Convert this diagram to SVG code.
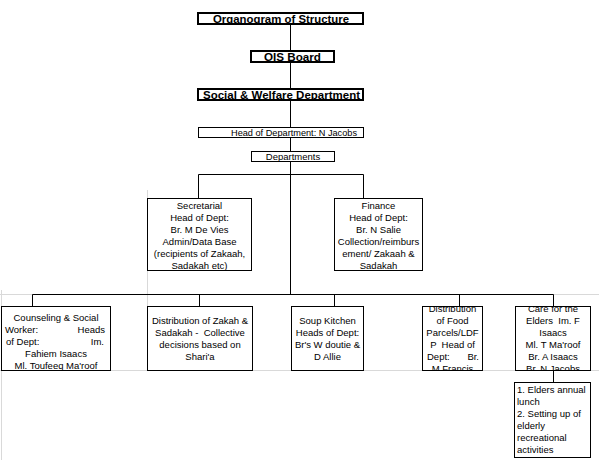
<svg xmlns="http://www.w3.org/2000/svg" width="599" height="460" viewBox="0 0 599 460">
<style>
.grid{stroke:#d9d9d9;stroke-width:1;fill:none}
.con{stroke:#000;stroke-width:1;fill:none}
.box{fill:#fff;stroke:#000;stroke-width:1}
.tbox{fill:#fff;stroke:#000;stroke-width:2}
.t{font-family:"Liberation Sans",Arial,sans-serif;font-size:9.5px;fill:#000;white-space:pre}
.c{text-anchor:middle}
.e{text-anchor:end}
.b{font-family:"Liberation Sans",Arial,sans-serif;font-size:11px;font-weight:bold;fill:#000;text-anchor:middle}
</style>
<defs>
<clipPath id="clip1"><rect x="1" y="306" width="109" height="64"/></clipPath>
<clipPath id="clip4"><rect x="422" y="306" width="60" height="64"/></clipPath>
<clipPath id="clip5"><rect x="515" y="306" width="75" height="64"/></clipPath>
</defs>
<g id="grid">
<line class="grid" x1="0" y1="370.5" x2="599" y2="370.5"/>
<line class="grid" x1="0" y1="294.5" x2="599" y2="294.5"/>
<line class="grid" x1="1.5" y1="290" x2="1.5" y2="460"/>
<line class="grid" x1="147.5" y1="190" x2="147.5" y2="306"/>
</g>
<g id="connectors">
<line class="con" x1="290.5" y1="24" x2="290.5" y2="294.5"/>
<polyline class="con" points="198.5,198 198.5,174.5 363.5,174.5 363.5,198"/>
<line class="con" x1="32.5" y1="294.5" x2="553.5" y2="294.5"/>
<line class="con" x1="32.5" y1="294.5" x2="32.5" y2="306"/>
<line class="con" x1="199.5" y1="294.5" x2="199.5" y2="306"/>
<line class="con" x1="334.5" y1="294.5" x2="334.5" y2="306"/>
<line class="con" x1="459.5" y1="294.5" x2="459.5" y2="306"/>
<line class="con" x1="553.5" y1="294.5" x2="553.5" y2="306"/>
<line class="con" x1="553.5" y1="370" x2="553.5" y2="382"/>
</g>
<g id="title">
<rect class="tbox" x="198" y="13" width="165" height="11"/>
<text class="b" x="281" y="22.5" textLength="136" lengthAdjust="spacingAndGlyphs">Organogram of Structure</text>
</g>
<g id="ois-board">
<rect class="tbox" x="251" y="51" width="83" height="11"/>
<text class="b" x="292.5" y="60.5" textLength="57" lengthAdjust="spacingAndGlyphs">OIS Board</text>
</g>
<g id="social-welfare">
<rect class="tbox" x="198" y="89" width="165" height="11"/>
<text class="b" x="281.5" y="98.5" textLength="157" lengthAdjust="spacingAndGlyphs">Social &amp; Welfare Department</text>
</g>
<g id="head-of-department">
<rect class="box" x="198.5" y="127.5" width="165" height="10"/>
<text class="t e" x="357" y="136" textLength="126" lengthAdjust="spacingAndGlyphs">Head of Department: N Jacobs</text>
</g>
<g id="departments">
<rect class="box" x="251.5" y="151.5" width="83" height="10"/>
<text class="t c" x="293" y="160">Departments</text>
</g>
<g id="secretarial">
<rect class="box" x="147.5" y="198.5" width="104" height="72"/>
<text class="t c" x="199.5" y="208.5">Secretarial</text>
<text class="t c" x="199.5" y="220.5">Head of Dept:</text>
<text class="t c" x="199.5" y="232.5">Br. M De Vies</text>
<text class="t c" x="199.5" y="244.5">Admin/Data Base</text>
<text class="t c" x="199.5" y="256.5">(recipients of Zakaah,</text>
<text class="t c" x="199.5" y="268.5">Sadakah etc)</text>
</g>
<g id="finance">
<rect class="box" x="334.5" y="198.5" width="88" height="72"/>
<text class="t c" x="378.5" y="208.5">Finance</text>
<text class="t c" x="378.5" y="220.5">Head of Dept:</text>
<text class="t c" x="378.5" y="232.5">Br. N Salie</text>
<text class="t c" x="378.5" y="244.5">Collection/reimburs</text>
<text class="t c" x="378.5" y="256.5">ement/ Zakaah &amp;</text>
<text class="t c" x="378.5" y="268.5">Sadakah</text>
</g>
<g id="counseling">
<rect class="box" x="1.5" y="306.5" width="109" height="64"/>
<g clip-path="url(#clip1)">
<text class="t c" x="56" y="320.5">Counseling &amp; Social</text>
<text class="t" x="5" y="332.5">Worker:</text>
<text class="t e" x="105" y="332.5">Heads</text>
<text class="t" x="6" y="344.5">of Dept:</text>
<text class="t e" x="104" y="344.5">Im.</text>
<text class="t c" x="56" y="356.5">Fahiem Isaacs</text>
<text class="t c" x="56" y="368.5">Ml. Toufeeq Ma'roof</text>
</g>
</g>
<g id="distribution-zakah">
<rect class="box" x="147.5" y="306.5" width="105" height="64"/>
<text class="t c" x="200" y="323.5">Distribution of Zakah &amp;</text>
<text class="t c" x="200" y="335.5">Sadakah -  Collective</text>
<text class="t c" x="200" y="347.5">decisions based on</text>
<text class="t c" x="200" y="359.5">Shari'a</text>
</g>
<g id="soup-kitchen">
<rect class="box" x="291.5" y="306.5" width="72" height="64"/>
<text class="t c" x="327.5" y="323.5">Soup Kitchen</text>
<text class="t c" x="327.5" y="335.5">Heads of Dept:</text>
<text class="t c" x="327.5" y="347.5">Br's W doutie &amp;</text>
<text class="t c" x="327.5" y="359.5">D Allie</text>
</g>
<g id="food-parcels">
<rect class="box" x="422.5" y="306.5" width="60" height="64"/>
<g clip-path="url(#clip4)">
<text class="t c" x="452.5" y="311.5">Distribution</text>
<text class="t c" x="452.5" y="324">of Food</text>
<text class="t c" x="452.5" y="336">Parcels/LDF</text>
<text class="t c" x="452.5" y="348">P  Head of</text>
<text class="t" x="427" y="360">Dept:</text>
<text class="t e" x="479" y="360">Br.</text>
<text class="t c" x="452.5" y="372">M Francis</text>
</g>
</g>
<g id="care-elders">
<rect class="box" x="515.5" y="306.5" width="75" height="64"/>
<g clip-path="url(#clip5)">
<text class="t c" x="553" y="311.5">Care for the</text>
<text class="t c" x="553" y="323.5">Elders  Im. F</text>
<text class="t c" x="553" y="335.5">Isaacs</text>
<text class="t c" x="553" y="347.5">Ml. T Ma'roof</text>
<text class="t c" x="553" y="359.5">Br. A Isaacs</text>
<text class="t c" x="553" y="371.5">Br. N Jacobs</text>
</g>
</g>
<g id="elders-activities">
<rect class="box" x="514.5" y="382.5" width="76" height="75"/>
<text class="t" x="517" y="392.5">1. Elders annual</text>
<text class="t" x="517" y="405">lunch</text>
<text class="t" x="517" y="417">2. Setting up of</text>
<text class="t" x="517" y="429">elderly</text>
<text class="t" x="517" y="441">recreational</text>
<text class="t" x="517" y="453">activities</text>
</g>
</svg>
